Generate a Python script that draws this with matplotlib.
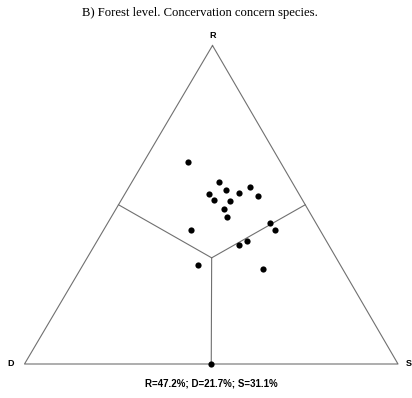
import matplotlib
matplotlib.use("Agg")
import matplotlib.pyplot as plt
import numpy as np

title = "B) Forest level. Concervation concern species."
summary = "R=47.2%; D=21.7%; S=31.1%"
vertex_labels = ["R", "D", "S"]

# ternary values (fractions)
R = [0.633, 0.570, 0.546, 0.533, 0.515, 0.512, 0.538, 0.555, 0.527, 0.486,
     0.462, 0.421, 0.442, 0.420, 0.385, 0.373, 0.310, 0.297, 0.000]
D = [0.248, 0.196, 0.189, 0.242, 0.237, 0.196, 0.159, 0.120, 0.114, 0.225,
     0.228, 0.346, 0.124, 0.120, 0.213, 0.241, 0.382, 0.215, 0.500]
S = [0.119, 0.234, 0.265, 0.225, 0.248, 0.292, 0.303, 0.325, 0.359, 0.289,
     0.310, 0.233, 0.434, 0.460, 0.402, 0.386, 0.308, 0.488, 0.500]

W, H = 412, 398
# triangle corner positions in figure pixels (layout)
VR = np.array([212.5, 45.5])
VD = np.array([24.5, 364.0])
VS = np.array([398.0, 364.0])


def to_xy(r, d, s):
    r = np.atleast_1d(np.asarray(r, float))
    d = np.atleast_1d(np.asarray(d, float))
    s = np.atleast_1d(np.asarray(s, float))
    tot = r + d + s
    r, d, s = r / tot, d / tot, s / tot
    x = r * VR[0] + d * VD[0] + s * VS[0]
    y = r * VR[1] + d * VD[1] + s * VS[1]
    return x, y


fig = plt.figure(figsize=(W / 100, H / 100), dpi=100)
ax = fig.add_axes([0, 0, 1, 1])
ax.set_xlim(0, W)
ax.set_ylim(H, 0)
ax.axis("off")

edge_col = "#707070"
tx, ty = to_xy([1, 0, 0, 1], [0, 1, 0, 0], [0, 0, 1, 0])
ax.plot(tx, ty, color=edge_col, lw=0.8)
cx, cy = to_xy(1 / 3, 1 / 3, 1 / 3)
for m in [(0.5, 0.5, 0), (0.5, 0, 0.5), (0, 0.5, 0.5)]:
    mx, my = to_xy(*m)
    ax.plot([cx[0], mx[0]], [cy[0], my[0]], color=edge_col, lw=0.8)

px, py = to_xy(R, D, S)
ax.scatter(px, py, s=20, color="black", zorder=5, linewidths=0)

ax.text(199.5, 13, title, ha="center", va="center",
        family="Liberation Serif", fontsize=9.1)
ax.text(213, 35, vertex_labels[0], ha="center", va="center",
        family="Liberation Sans", fontweight="bold", fontsize=6.5)
ax.text(11, 364, vertex_labels[1], ha="center", va="center",
        family="Liberation Sans", fontweight="bold", fontsize=6.5)
ax.text(409, 364, vertex_labels[2], ha="center", va="center",
        family="Liberation Sans", fontweight="bold", fontsize=6.5)
ax.text(211.5, 384, summary, ha="center", va="center",
        family="Liberation Sans", fontweight="bold", fontsize=7.0)

fig.savefig("out.png", dpi=100)
